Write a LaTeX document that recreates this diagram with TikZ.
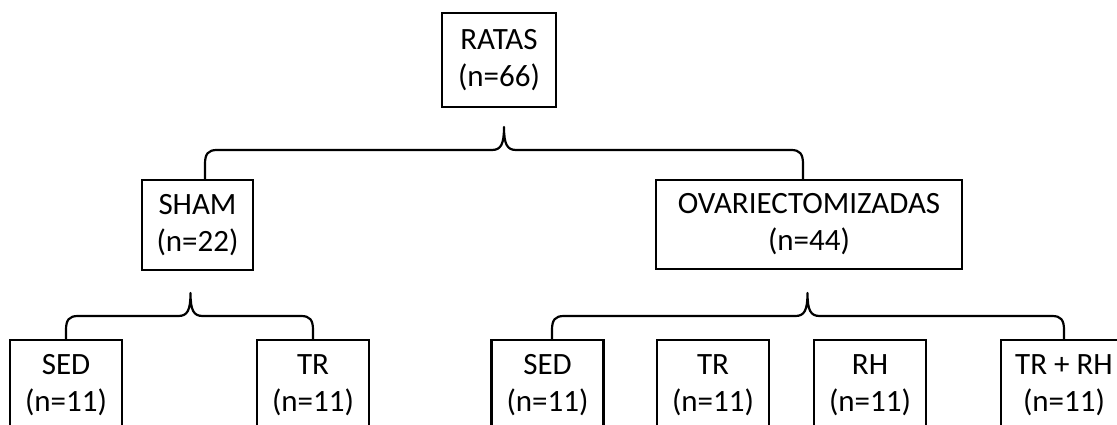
\documentclass[tikz,border=0pt]{standalone}
\usepackage{fontspec}
\setmainfont{Carlito}
\usepackage{tikz}
\usetikzlibrary{calc}
\tikzset{
  grupo/.style={
    rectangle, draw=black, line width=2.4pt, fill=white,
    align=center, inner sep=0pt, minimum width=112pt, minimum height=90pt,
    font=\fontsize{31}{37}\selectfont
  },
  llave/.style={draw=black, line width=2.2pt, line join=round, line cap=butt}
}
\newcommand{\llave}[3]{%
  \draw[llave] let \p1=(#1), \p2=(#2), \p3=(#3) in
    (\x1,\y1) -- (\x1,\y3-37) .. controls (\x1,\y3-27) and (\x1+3,\y3-23) .. (\x1+12,\y3-23)
    -- (\x3-12,\y3-23) .. controls (\x3-3,\y3-23) and (\x3,\y3-17) .. (\x3,\y3)
    .. controls (\x3,\y3-17) and (\x3+3,\y3-23) .. (\x3+12,\y3-23)
    -- (\x2-12,\y3-23) .. controls (\x2-3,\y3-23) and (\x2,\y3-27) .. (\x2,\y3-37) -- (\x2,\y2);}

\begin{document}
\begin{tikzpicture}[x=1pt,y=1pt]
\clip (0,0) rectangle (1117,425);
\fill[white] (0,0) rectangle (1117,425);
\node[grupo,minimum width=114pt,minimum height=94pt] (ratas) at (499,365) {RATAS\\(n=66)};
\node[grupo,minimum width=111pt] (sham) at (197.5,200) {SHAM\\(n=22)};
\node[grupo,minimum width=306pt,minimum height=89pt] (ovx) at (809,200.5) {OVARIECTOMIZADAS\\(n=44)};
\node[grupo] (sedA) at (66,40) {SED\\(n=11)};
\node[grupo] (trA) at (313,40) {TR\\(n=11)};
\node[grupo] (sedB) at (547.5,40) {SED\\(n=11)};
\node[grupo] (trB) at (713,40) {TR\\(n=11)};
\node[grupo] (rh) at (870,40) {RH\\(n=11)};
\node[grupo,minimum width=126pt] (trrh) at (1064,40) {TR + RH\\(n=11)};
\coordinate (pRatas) at (504,298);
\coordinate (pSham) at (190.5,132);
\coordinate (pOvx) at (807.5,132);
\llave{$(sham.north)+(7.5,0)$}{$(ovx.north)+(-6,0)$}{pRatas}
\llave{sedA.north}{trA.north}{pSham}
\llave{$(sedB.north)+(4.5,0)$}{trrh.north}{pOvx}
\end{tikzpicture}
\end{document}
